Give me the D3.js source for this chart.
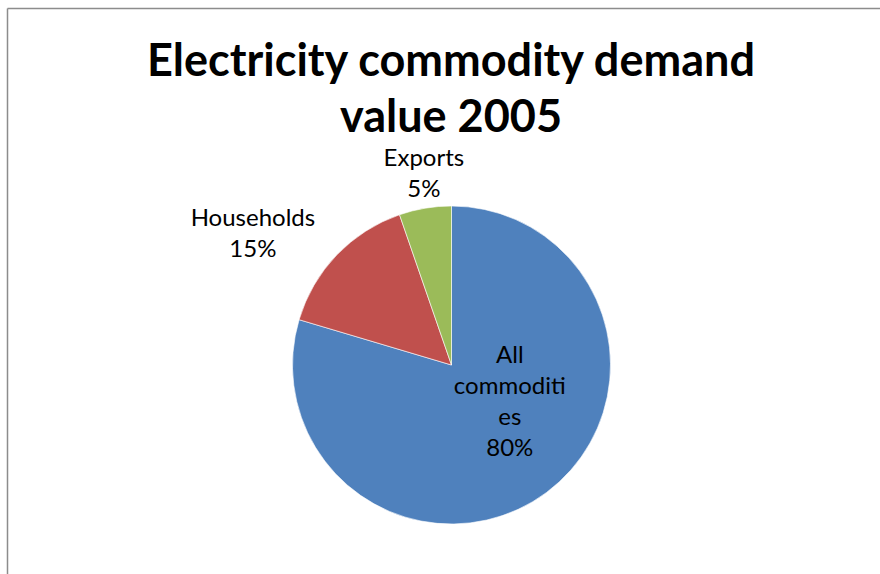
<!DOCTYPE html>
<html>
<head>
<meta charset="utf-8">
<script src="https://cdn.jsdelivr.net/npm/d3@7"></script>
<style>
  body { margin: 0; background: #fff; }
  svg { display: block; }
</style>
</head>
<body>
<div id="chart"></div>
<script>
// chart data
const categories = ['All commodities', 'Households', 'Exports'];
const values = [79.6, 15.1, 5.3];
const labelLines = [['All', 'commoditi', 'es'], ['Households'], ['Exports']];
const colors = ['#4F81BD', '#C0504D', '#9BBB59'];
const titleLines = ['Electricity commodity demand', 'value 2005'];

const WIDTH = 880, HEIGHT = 574;
const cx = 451.5, cy = 365, radius = 159;

// label anchor: radius and angle shift (radians) relative to slice mid
const labelPlace = [
    {r: 69, shift: -0.366},
    {r: 238, shift: -0.18},
    {r: 193, shift: 0.023}
];

const svg = d3.select('#chart').append('svg')
    .attr('width', WIDTH)
    .attr('height', HEIGHT);

// frame lines (top and left)
svg.append('line')
    .attr('x1', 7.5).attr('y1', 8.5).attr('x2', WIDTH).attr('y2', 8.5)
    .attr('stroke', '#8c8c8c').attr('stroke-width', 1.5);
svg.append('line')
    .attr('x1', 7.5).attr('y1', 8.5).attr('x2', 7.5).attr('y2', HEIGHT)
    .attr('stroke', '#8c8c8c').attr('stroke-width', 1.5);

// title
const title = svg.append('text')
    .attr('text-anchor', 'middle')
    .attr('font-family', 'Lato, "Open Sans", sans-serif')
    .attr('font-weight', 'bold')
    .attr('font-size', 44)
    .attr('fill', '#000');

title.selectAll('tspan')
    .data(titleLines)
    .join('tspan')
    .attr('x', 451)
    .attr('y', (d, i) => 76 + i * 56)
    .text(d => d);

// fit first line to the reference width
const firstLen = title.select('tspan').node().getComputedTextLength();
title.attr('font-size', 44 * 608 / firstLen);

const pie = d3.pie().sort(null).value(d => d);
const arcs = pie(values);

const arc = d3.arc().innerRadius(0).outerRadius(radius);

const g = svg.append('g')
    .attr('transform', `translate(${cx}, ${cy})`);

g.selectAll('path')
    .data(arcs)
    .join('path')
    .attr('d', arc)
    .attr('fill', (d, i) => colors[i])
    .attr('stroke', '#fff')
    .attr('stroke-width', 0.6);

const total = d3.sum(values);
const fmt = d3.format('.0%');

g.selectAll('text.label')
    .data(arcs)
    .join('text')
    .attr('class', 'label')
    .attr('text-anchor', 'middle')
    .attr('font-family', 'Lato, "Open Sans", sans-serif')
    .attr('font-size', 24)
    .attr('fill', '#000')
    .each(function(d, i) {
        const lines = labelLines[i].concat([fmt(d.value / total)]);
        const mid = (d.startAngle + d.endAngle) / 2 + labelPlace[i].shift;
        const x = Math.sin(mid) * labelPlace[i].r;
        const y = -Math.cos(mid) * labelPlace[i].r;
        const lh = 31;
        const y0 = y - (lines.length - 1) * lh / 2 + 8;
        d3.select(this).selectAll('tspan')
            .data(lines)
            .join('tspan')
            .attr('x', x)
            .attr('y', (l, k) => y0 + k * lh)
            .text(l => l);
    });
</script>
</body>
</html>
